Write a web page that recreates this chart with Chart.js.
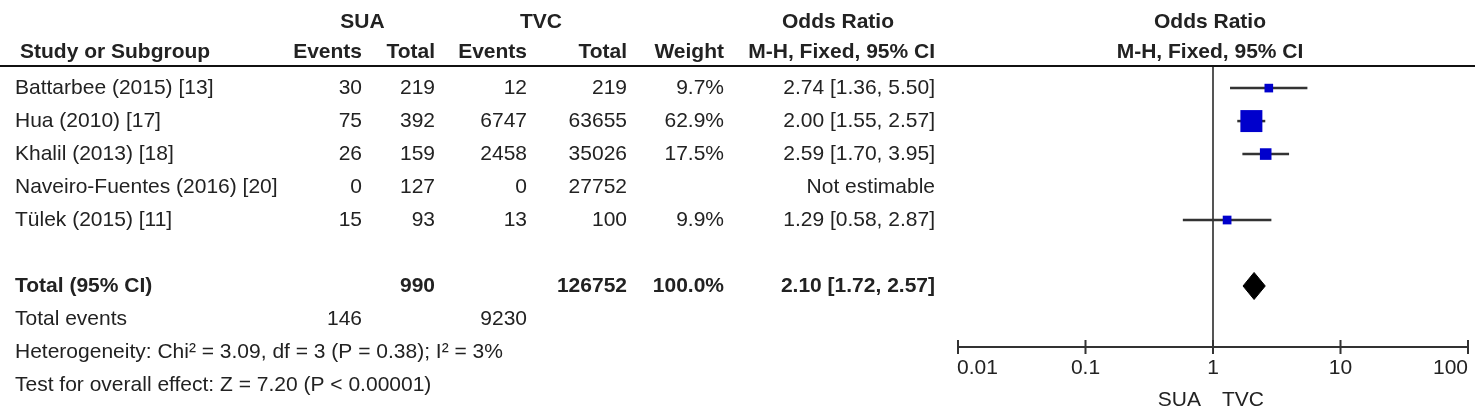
<!DOCTYPE html>
<html>
<head>
<meta charset="utf-8">
<script src="https://cdn.jsdelivr.net/npm/chart.js@4.4.0/dist/chart.umd.min.js"></script>
<style>
  html, body { margin: 0; padding: 0; background: #fff; }
  canvas { display: block; }
</style>
</head>
<body>
<canvas id="forest_chart" width="1475" height="409"></canvas>
<script>
// study rows
var studies = ["Battarbee (2015) [13]", "Hua (2010) [17]", "Khalil (2013) [18]", "Naveiro-Fuentes (2016) [20]", "Tülek (2015) [11]"];
var suaEvents = [30, 75, 26, 0, 15];
var suaTotal = [219, 392, 159, 127, 93];
var tvcEvents = [12, 6747, 2458, 0, 13];
var tvcTotal = [219, 63655, 35026, 27752, 100];
var weights = [9.7, 62.9, 17.5, null, 9.9];
var oddsRatio = [2.74, 2.00, 2.59, null, 1.29];
var ciLow = [1.36, 1.55, 1.70, null, 0.58];
var ciHigh = [5.50, 2.57, 3.95, null, 2.87];

// pooled result
var totalSua = 990;
var totalTvc = 126752;
var totalWeight = 100.0;
var pooledOR = [2.10, 1.72, 2.57]; // estimate, low, high
var eventsSua = 146;
var eventsTvc = 9230;
var heterogeneity = "Heterogeneity: Chi\u00b2 = 3.09, df = 3 (P = 0.38); I\u00b2 = 3%";
var overallEffect = "Test for overall effect: Z = 7.20 (P < 0.00001)";

var tickValues = [0.01, 0.1, 1, 10, 100];
var tickLabels = ["0.01", "0.1", "1", "10", "100"];

var FONT = '"Liberation Sans", Arial, sans-serif';
var INK = '#222';

function fmtCI(e, l, h) {
    return e.toFixed(2) + ' [' + l.toFixed(2) + ', ' + h.toFixed(2) + ']';
}

var totalRow = studies.length + 2;

// datasets built from the arrays
var datasets = [];
var squares = [], squareSizes = [];
for (var i = 0; i < studies.length; i++) {
    if (oddsRatio[i] === null) continue;
    datasets.push({
        data: [{ x: ciLow[i], y: i + 1 }, { x: ciHigh[i], y: i + 1 }],
        showLine: true,
        borderColor: '#333',
        borderWidth: 2.5,
        pointRadius: 0,
        order: 2
    });
    squares.push({ x: oddsRatio[i], y: i + 1 });
    // area proportional to weight
    squareSizes.push(1.96 * Math.sqrt(weights[i]));
}
datasets.push({
    data: squares,
    pointStyle: 'rect',
    pointRadius: squareSizes,
    backgroundColor: '#0000cc',
    borderWidth: 0,
    order: 0
});
datasets.push({
    data: [
        { x: pooledOR[1], y: totalRow },
        { x: pooledOR[0], y: totalRow - 0.41 },
        { x: pooledOR[2], y: totalRow },
        { x: pooledOR[0], y: totalRow + 0.41 },
        { x: pooledOR[1], y: totalRow }
    ],
    showLine: true,
    fill: 'shape',
    backgroundColor: '#000',
    borderColor: '#000',
    borderWidth: 1,
    pointRadius: 0,
    tension: 0,
    order: 1
});

var tablePlugin = {
    id: 'forestTable',
    beforeDatasetsDraw: function (chart) {
        var ctx = chart.ctx, x = chart.scales.x, area = chart.chartArea;
        ctx.save();
        ctx.strokeStyle = '#555';
        ctx.lineWidth = 2;
        ctx.beginPath();
        ctx.moveTo(x.getPixelForValue(1), area.top);
        ctx.lineTo(x.getPixelForValue(1), area.bottom);
        ctx.stroke();
        ctx.restore();
    },
    afterDatasetsDraw: function (chart) {
        var ctx = chart.ctx, x = chart.scales.x, y = chart.scales.y, area = chart.chartArea;
        ctx.save();

        // header underline
        ctx.strokeStyle = '#111';
        ctx.lineWidth = 2;
        ctx.beginPath();
        ctx.moveTo(0, area.top);
        ctx.lineTo(chart.width, area.top);
        ctx.stroke();

        function txt(s, px, py, align, bold) {
            ctx.font = (bold ? 'bold ' : '') + '21px ' + FONT;
            ctx.textAlign = align;
            ctx.textBaseline = 'middle';
            ctx.fillStyle = INK;
            ctx.fillText(s, px, py);
        }

        var cSuaEv = 362, cSuaTot = 435, cTvcEv = 527, cTvcTot = 627, cW = 724, cOR = 935;
        var mid1 = x.getPixelForValue(1);

        // headers
        txt('SUA', (290 + cSuaTot) / 2, 22, 'center', true);
        txt('TVC', (455 + cTvcTot) / 2, 22, 'center', true);
        txt('Odds Ratio', 838, 22, 'center', true);
        txt('Odds Ratio', mid1 - 3, 22, 'center', true);
        txt('Study or Subgroup', 20, 52, 'left', true);
        txt('Events', cSuaEv, 52, 'right', true);
        txt('Total', cSuaTot, 52, 'right', true);
        txt('Events', cTvcEv, 52, 'right', true);
        txt('Total', cTvcTot, 52, 'right', true);
        txt('Weight', cW, 52, 'right', true);
        txt('M-H, Fixed, 95% CI', cOR, 52, 'right', true);
        txt('M-H, Fixed, 95% CI', mid1 - 3, 52, 'center', true);

        // study rows
        for (var i = 0; i < studies.length; i++) {
            var py = y.getPixelForValue(i + 1);
            txt(studies[i], 15, py, 'left');
            txt(String(suaEvents[i]), cSuaEv, py, 'right');
            txt(String(suaTotal[i]), cSuaTot, py, 'right');
            txt(String(tvcEvents[i]), cTvcEv, py, 'right');
            txt(String(tvcTotal[i]), cTvcTot, py, 'right');
            if (weights[i] !== null) txt(weights[i].toFixed(1) + '%', cW, py, 'right');
            txt(oddsRatio[i] === null ? 'Not estimable' : fmtCI(oddsRatio[i], ciLow[i], ciHigh[i]), cOR, py, 'right');
        }

        // totals
        var ty = y.getPixelForValue(totalRow);
        txt('Total (95% CI)', 15, ty, 'left', true);
        txt(String(totalSua), cSuaTot, ty, 'right', true);
        txt(String(totalTvc), cTvcTot, ty, 'right', true);
        txt(totalWeight.toFixed(1) + '%', cW, ty, 'right', true);
        txt(fmtCI(pooledOR[0], pooledOR[1], pooledOR[2]), cOR, ty, 'right', true);

        var ey = y.getPixelForValue(totalRow + 1);
        txt('Total events', 15, ey, 'left');
        txt(String(eventsSua), cSuaEv, ey, 'right');
        txt(String(eventsTvc), cTvcEv, ey, 'right');
        txt(heterogeneity, 15, y.getPixelForValue(totalRow + 2), 'left');
        txt(overallEffect, 15, y.getPixelForValue(totalRow + 3), 'left');

        // bottom log axis
        ctx.strokeStyle = '#333';
        ctx.lineWidth = 2;
        ctx.beginPath();
        ctx.moveTo(area.left, area.bottom);
        ctx.lineTo(area.right, area.bottom);
        for (var k = 0; k < tickValues.length; k++) {
            var tx = x.getPixelForValue(tickValues[k]);
            ctx.moveTo(tx, area.bottom - 7);
            ctx.lineTo(tx, area.bottom + 7);
        }
        ctx.stroke();
        for (var k = 0; k < tickValues.length; k++) {
            var tx = x.getPixelForValue(tickValues[k]);
            var al = k === 0 ? 'left' : (k === tickValues.length - 1 ? 'right' : 'center');
            txt(tickLabels[k], k === 0 ? tx - 1 : tx, area.bottom + 21, al);
        }
        txt('SUA', mid1 - 12, area.bottom + 53, 'right');
        txt('TVC', mid1 + 9, area.bottom + 53, 'left');

        ctx.restore();
    }
};

new Chart(document.getElementById("forest_chart").getContext("2d"), {
    type: 'scatter',
    data: { datasets: datasets },
    options: {
        responsive: false,
        animation: false,
        layout: { autoPadding: false, padding: { left: 958, right: 7, top: 66, bottom: 62 } },
        plugins: { legend: { display: false }, tooltip: { enabled: false } },
        scales: {
            x: { type: 'logarithmic', min: 0.01, max: 100, display: false },
            y: { type: 'linear', min: 0.33, max: 8.85, reverse: true, display: false }
        }
    },
    plugins: [tablePlugin]
});
</script>
</body>
</html>
